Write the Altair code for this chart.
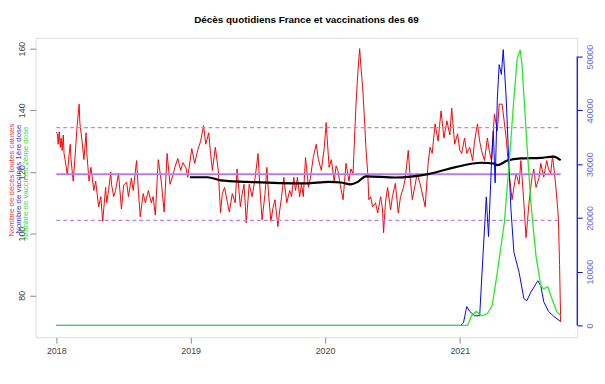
import altair as alt
import pandas as pd

# ---- data (day offset from 2018-01-01, value) ----
red_day = [0, 3, 5, 8, 11, 13, 16, 19, 21, 24, 30, 35, 38, 40, 46, 51, 56, 62, 64, 70,
           75, 81, 83, 89, 94, 102, 107, 115, 121, 126, 134, 137, 142, 148, 150, 156, 161, 169, 177, 183,
           191, 196, 204, 209, 218, 223, 228, 236, 242, 250, 258, 263, 269, 277, 285, 293, 301, 309, 317, 322,
           330, 338, 344, 352, 357, 368, 376, 384, 392, 400, 406, 414, 419, 424, 432, 440, 446, 451, 457, 465,
           470, 478, 486, 491, 500, 505, 510, 516, 524, 532, 540, 548, 553, 559, 567, 572, 577, 583, 588, 594,
           602, 607, 612, 618, 626, 634, 639, 645, 650, 655, 661, 666, 671, 677, 685, 690, 698, 706, 712, 720,
           728, 733, 741, 747, 755, 760, 765, 771, 779, 787, 795, 800, 806, 808, 814, 819, 824, 827, 833, 838,
           841, 846, 849, 854, 859, 867, 873, 881, 886, 889, 894, 900, 908, 913, 921, 929, 935, 943, 948, 956,
           962, 967, 975, 980, 988, 996, 1002, 1010, 1015, 1021, 1029, 1037, 1045, 1053, 1061, 1069, 1074, 1082, 1090, 1096,
           1101, 1109, 1115, 1123, 1131, 1136, 1144, 1150, 1155, 1163, 1171, 1176, 1182, 1190, 1198, 1203, 1211, 1217, 1222, 1230,
           1238, 1243, 1249, 1257, 1262, 1270, 1276, 1284, 1292, 1297, 1303, 1311, 1316, 1324, 1332, 1337, 1343, 1348, 1356, 1362,
           1364, 1367, 1370]
red_val = [133, 132.4, 129, 133, 128, 131, 127, 132, 126, 124, 119, 126, 129, 124, 117, 125, 134, 142, 136, 130,
           124, 132.7, 126, 117, 121.5, 114, 117, 108.7, 112, 104, 115, 110, 114, 120, 116, 112, 114, 119.5, 108, 115.7,
           116.7, 112, 118, 114, 123.7, 114, 105.5, 113, 110, 114, 110, 112, 106, 124, 117, 107, 126, 116, 119, 121.5,
           124.4, 120.5, 123, 121.5, 118.3, 127.6, 122.8, 127, 130, 135, 129, 132.7, 126, 120.5, 128, 120.5, 106.8, 113, 115, 110,
           107, 113, 110, 121, 108.7, 113, 116, 103.5, 116, 112, 118, 126, 115, 104.5, 113, 121.5, 112, 104, 108, 111,
           102.3, 107.7, 112, 118.3, 110, 114, 112, 118.3, 114, 118.3, 112, 116, 112, 124.7, 115, 118, 124.7, 129, 124, 120.5,
           128, 136, 121.5, 124, 117, 122, 120.5, 116, 111, 122.8, 117, 121, 119.5, 125, 142, 152, 160, 155, 146, 135,
           128, 119.5, 111, 112, 108.7, 110, 106.7, 112, 108, 100.3, 110, 115, 107.7, 112, 116.3, 106.7, 112, 115, 118, 127,
           117, 111, 116, 119.5, 116.3, 112, 108.7, 122.8, 128, 126, 135.6, 130, 139.8, 131, 136.6, 132, 140.7, 129, 132.4, 127,
           126, 131, 126, 128, 123.7, 130, 135.6, 130, 127, 123.7, 131, 127, 123.7, 138.8, 133.4, 142, 142, 136, 131, 119.5,
           111, 115, 119.5, 116, 123.7, 110, 98.7, 110, 118.3, 121, 115, 118, 122.8, 118.3, 123.7, 121, 119.5, 125.3, 116.3, 108,
           104.3, 90, 71.5]

avg_day = [363, 411, 446, 518, 607, 677, 741, 773, 800, 819, 841, 921, 1010, 1082, 1155, 1190, 1198, 1225, 1262, 1316, 1351, 1370]
avg_val = [118.3, 118.3, 117.3, 116.8, 116.4, 116.3, 116.8, 116.6, 116.0, 116.8, 118.6, 118.2, 119.3, 121.5, 123, 122.7, 122.2, 123.7, 124.4, 124.6, 125, 123.8]

dose1_day = [0, 1098, 1106, 1115, 1123, 1136, 1150, 1158, 1168, 1174, 1182, 1187, 1192, 1198, 1203, 1209, 1214, 1222, 1230, 1235,
             1243, 1257, 1270, 1278, 1289, 1300, 1308, 1316, 1324, 1337, 1351, 1370]
dose1_val = [0, 0, 500, 3500, 2600, 1800, 1800, 11800, 23900, 16500, 30100, 36200, 26500, 42300, 48500, 46700, 51300, 42300, 28900, 21500,
             13600, 9900, 5000, 4600, 6200, 7400, 8300, 7400, 4400, 2600, 1700, 700]

dose2_day = [0, 1117, 1128, 1141, 1155, 1171, 1184, 1198, 1217, 1230, 1243, 1252, 1260, 1265, 1276, 1289, 1303, 1316, 1324, 1335, 1346, 1359, 1370]
dose2_val = [0, 0, 1800, 2600, 1800, 2200, 3700, 9900, 19100, 30100, 42300, 49600, 51300, 48500, 36200, 22800, 12900, 7400, 6800, 7200, 5000, 2600, 1800]

ref_levels = [119.3, 134.4, 104.3]          # mean, upper, lower
ref_kind = ["mean", "band", "band"]
left_ticks = [80, 100, 120, 140, 160]
right_ticks = [0, 10000, 20000, 30000, 40000, 50000]
year_ticks = ["2018", "2019", "2020", "2021"]

TITLE = "Décès quotidiens France et vaccinations des 69"
LAB_RED = "Nombre de décès toutes causes"
LAB_BLUE = "Nombre de vaccinés 1ère dose"
LAB_GREEN = "Nombre de vaccinés 2ème dose"

FONT = "Liberation Sans"
base = pd.Timestamp("2018-01-01")


def dates(days):
    return [(base + pd.Timedelta(days=int(d))).strftime("%Y-%m-%dT%H:%M:%S") for d in days]


red_df = pd.DataFrame({"date": dates(red_day), "v": red_val})
avg_df = pd.DataFrame({"date": dates(avg_day), "v": avg_val})
d1_df = pd.DataFrame({"date": dates(dose1_day), "v": dose1_val})
d2_df = pd.DataFrame({"date": dates(dose2_day), "v": dose2_val})
ref_df = pd.DataFrame({"start": dates([red_day[0]] * 3), "end": dates([red_day[-1]] * 3),
                       "v": ref_levels, "kind": ref_kind})
axis_df = pd.DataFrame({"lo": [right_ticks[0]], "hi": [right_ticks[-1]]})

W, H = 548, 303

xscale = alt.Scale(domain=["2017-11-06T00:00:00", "2021-11-16T00:00:00"], nice=False)
xaxis = alt.Axis(values=[f"{y}-01-01T00:00:00" for y in year_ticks], format="%Y", title=None,
                 grid=False, domain=False, tickColor="#888888", tickSize=6, labelPadding=3,
                 labelFont=FONT, labelFontSize=9, labelColor="#444444")
X = alt.X("date:T", scale=xscale, axis=xaxis)
XS = alt.X("start:T", scale=xscale, axis=xaxis)

lscale = alt.Scale(domain=[66.4, 163.5], nice=False, zero=False)
laxis = alt.Axis(orient="left", values=left_ticks, title=None, grid=False, domain=False,
                 tickColor="#888888", tickSize=6, labelAngle=270, labelAlign="center",
                 labelBaseline="bottom", labelPadding=3, labelFont=FONT, labelFontSize=9,
                 labelColor="#444444")
YL = alt.Y("v:Q", scale=lscale, axis=laxis)

rscale = alt.Scale(domain=[-2206, 53490], nice=False, zero=False)
raxis = alt.Axis(orient="right", values=right_ticks, format="d", title=None, grid=False, domain=False,
                 tickColor="#0000cc", tickSize=5, labelAngle=270, labelAlign="center",
                 labelBaseline="top", labelPadding=3, labelFont=FONT, labelFontSize=9,
                 labelColor="#6666ee")
YR = alt.Y("v:Q", scale=rscale, axis=raxis)

red = alt.Chart(red_df).mark_line(color="#ff0000", strokeWidth=1).encode(x=X, y=YL)

ref_mean = alt.Chart(ref_df).transform_filter(alt.datum.kind == "mean").mark_rule(
    color="#b57cf2", strokeWidth=2).encode(x=XS, x2="end:T", y=YL)
ref_band = alt.Chart(ref_df).transform_filter(alt.datum.kind == "band").mark_rule(
    color="#c080ff", strokeWidth=1.2, strokeDash=[4, 3]).encode(x=XS, x2="end:T", y=YL)

avg = alt.Chart(avg_df).mark_line(color="#000000", strokeWidth=2.2, interpolate="monotone").encode(x=X, y=YL)

one = alt.Data(values=[{"a": 1}])
lab_red = alt.Chart(one).mark_text(text=LAB_RED, angle=270, color="#ff3030", font=FONT, fontSize=8,
                                   baseline="middle", align="center").encode(
    x=alt.value(-24), y=alt.value(144))
lab_blue = alt.Chart(one).mark_text(text=LAB_BLUE, angle=270, color="#3030ff", font=FONT, fontSize=8,
                                    baseline="middle", align="center").encode(
    x=alt.value(-17), y=alt.value(143))
lab_green = alt.Chart(one).mark_text(text=LAB_GREEN, angle=270, color="#30dd30", font=FONT, fontSize=8,
                                     baseline="middle", align="center").encode(
    x=alt.value(-10), y=alt.value(147))

left = alt.layer(red, ref_mean, ref_band, avg, lab_red, lab_blue, lab_green)

blue = alt.Chart(d1_df).mark_line(color="#0000ff", strokeWidth=1).encode(x=X, y=YR)
green = alt.Chart(d2_df).mark_line(color="#22ee22", strokeWidth=1.3).encode(x=X, y=YR)
raxis_line = alt.Chart(axis_df).mark_rule(color="#0000cc", strokeWidth=1.2).encode(
    x=alt.value(W), y=alt.Y("lo:Q", scale=rscale, axis=raxis), y2="hi:Q")

right = alt.layer(blue, green, raxis_line)

chart = alt.layer(left, right).resolve_scale(y="independent").properties(
    width=W, height=H,
    title=alt.TitleParams(text=TITLE, font=FONT, fontSize=10, fontWeight="bold", color="#000000",
                          anchor="middle", offset=13),
    autosize=alt.AutoSizeParams(type="none"),
    padding={"left": 28, "top": 28, "right": 20, "bottom": 37},
).configure_view(stroke="#8a8a8a", strokeWidth=1.2).configure(background="white")

chart.save("out.html", embed_options={"renderer": "svg", "actions": False})
